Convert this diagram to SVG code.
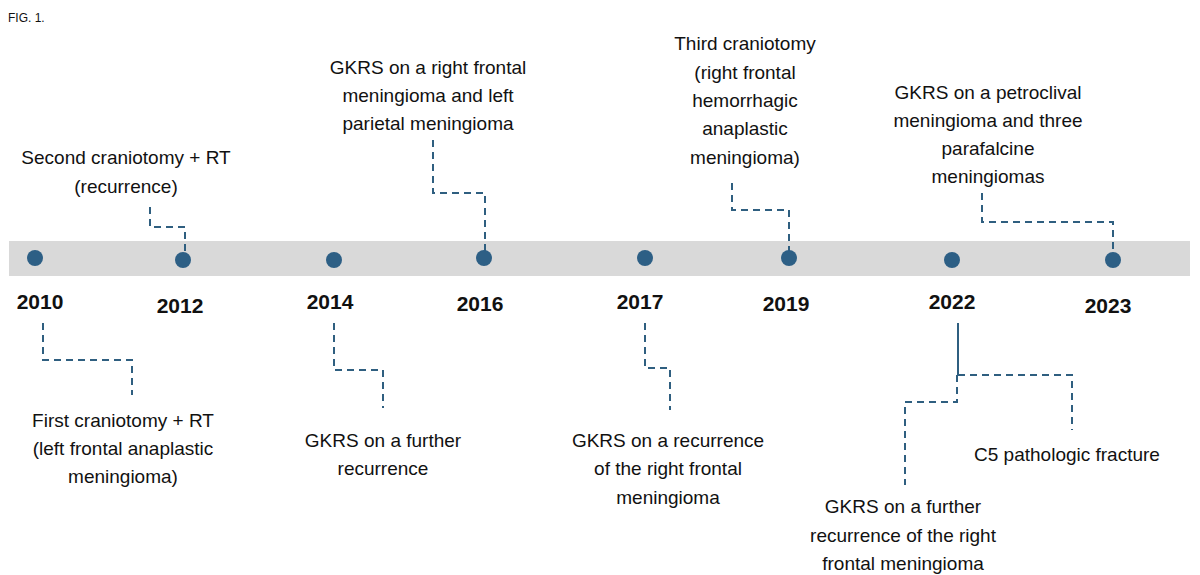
<svg xmlns="http://www.w3.org/2000/svg" width="1200" height="575" viewBox="0 0 1200 575">
<style>
text{font-family:"Liberation Sans",Arial,sans-serif;fill:#111}
.t{font-size:19px;text-anchor:middle}
.y{font-size:21px;font-weight:bold;text-anchor:middle}
.c{fill:none;stroke:#2f5f80;stroke-width:2;stroke-dasharray:7,5}
.d{fill:#2d5f85}
</style>
<rect width="1200" height="575" fill="#fff"/>
<text x="8" y="22" font-size="12">FIG. 1.</text>
<rect x="9" y="241" width="1181" height="35" fill="#d9d9d9"/>
<g id="connectors">
<polyline class="c" points="43,323 43,360 132,360 132,395"/>
<polyline class="c" points="150,207 150,227 185,227 185,252"/>
<polyline class="c" points="334,323 334,370 383,370 383,408"/>
<polyline class="c" points="433,140 433,193 485,193 485,252"/>
<polyline class="c" points="645,323 645,368 670,368 670,410"/>
<polyline class="c" points="732,183 732,210 789,210 789,252"/>
<line x1="958" y1="323" x2="958" y2="375" stroke="#2f5f80" stroke-width="2"/>
<polyline class="c" points="958,375 1072,375 1072,430"/>
<polyline class="c" points="957,375 957,402 905,402 905,485"/>
<polyline class="c" points="982,193 982,222 1113,222 1113,252"/>
</g>
<g id="n2010"><circle class="d" cx="35" cy="258" r="8"/><text class="y" x="40" y="309">2010</text>
<text class="t" x="123" y="427">First craniotomy + RT</text><text class="t" x="123" y="455">(left frontal anaplastic</text><text class="t" x="123" y="483">meningioma)</text></g>
<g id="n2012"><circle class="d" cx="183" cy="260" r="8"/><text class="y" x="180" y="313">2012</text>
<text class="t" x="126" y="164">Second craniotomy + RT</text><text class="t" x="126" y="193">(recurrence)</text></g>
<g id="n2014"><circle class="d" cx="334" cy="260" r="8"/><text class="y" x="330" y="309">2014</text>
<text class="t" x="383" y="447">GKRS on a further</text><text class="t" x="383" y="475">recurrence</text></g>
<g id="n2016"><circle class="d" cx="484" cy="258" r="8"/><text class="y" x="480" y="311">2016</text>
<text class="t" x="428" y="74">GKRS on a right frontal</text><text class="t" x="428" y="102">meningioma and left</text><text class="t" x="428" y="130">parietal meningioma</text></g>
<g id="n2017"><circle class="d" cx="645" cy="258" r="8"/><text class="y" x="640" y="309">2017</text>
<text class="t" x="668" y="447">GKRS on a recurrence</text><text class="t" x="668" y="475">of the right frontal</text><text class="t" x="668" y="504">meningioma</text></g>
<g id="n2019"><circle class="d" cx="789" cy="258" r="8"/><text class="y" x="786" y="311">2019</text>
<text class="t" x="745" y="50">Third craniotomy</text><text class="t" x="745" y="79">(right frontal</text><text class="t" x="745" y="107">hemorrhagic</text><text class="t" x="745" y="135">anaplastic</text><text class="t" x="745" y="164">meningioma)</text></g>
<g id="n2022"><circle class="d" cx="952" cy="260" r="8"/><text class="y" x="952" y="309">2022</text>
<text class="t" x="1067" y="461">C5 pathologic fracture</text>
<text class="t" x="903" y="513">GKRS on a further</text><text class="t" x="903" y="542">recurrence of the right</text><text class="t" x="903" y="570">frontal meningioma</text></g>
<g id="n2023"><circle class="d" cx="1113" cy="260" r="8"/><text class="y" x="1108" y="313">2023</text>
<text class="t" x="988" y="99">GKRS on a petroclival</text><text class="t" x="988" y="127">meningioma and three</text><text class="t" x="988" y="155">parafalcine</text><text class="t" x="988" y="183">meningiomas</text></g>
</svg>
